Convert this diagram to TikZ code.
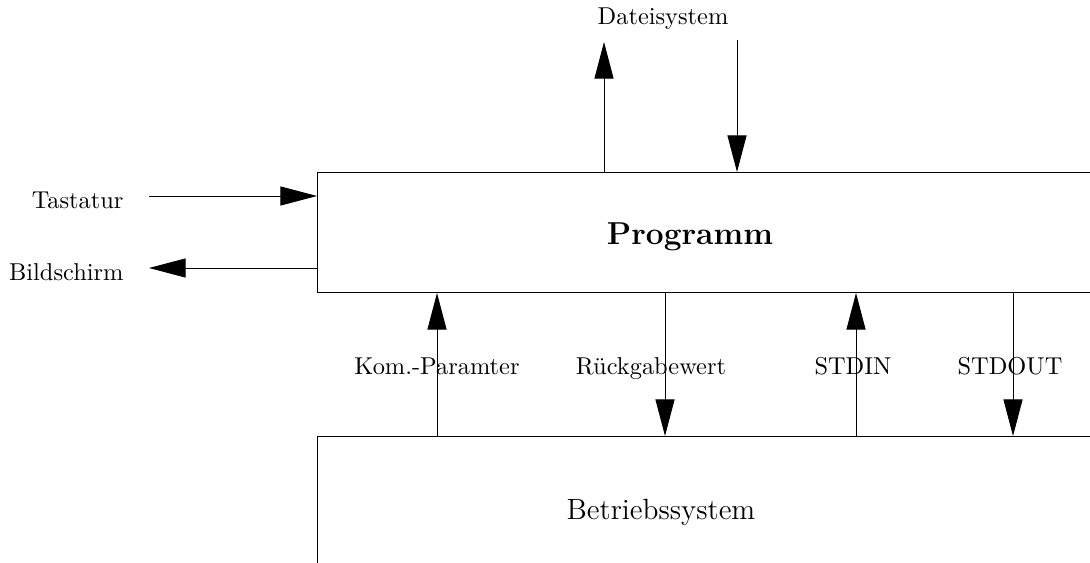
\documentclass[tikz,border=0pt]{standalone}
\usetikzlibrary{arrows.meta}
\begin{document}
\begin{tikzpicture}[x=0.41pt,y=-0.41pt,
  box/.style={draw, line width=0.4pt, minimum width=403pt, anchor=north west, inner sep=0pt},
  arr/.style={line width=0.4pt, -{Triangle[length=15pt,width=7.8pt]}},
  lbl/.style={inner sep=0pt},
  rowlbl/.style={inner sep=0pt, anchor=base}]
\clip (0,0) rectangle (1090,562);
\node[box, minimum height=49.2pt] (prog) at (317,172) {};
\node[box, minimum height=82pt] (os) at (317,436) {};
\node[lbl] (progtext) at (690,237) {\fontsize{13}{15}\selectfont\bfseries Programm};
\node[lbl] (ostext) at (661,512) {\large Betriebssystem};
\node[lbl, anchor=east] (tastatur) at (124,200) {Tastatur};
\node[lbl, anchor=east] (bildschirm) at (124,272) {Bildschirm};
\node[lbl] (datei) at (663,19) {Dateisystem};
\node[rowlbl] (kom) at (437,374) {Kom.-Paramter};
\node[rowlbl] (rueck) at (651,374) {R\"uckgabewert};
\node[rowlbl] (stdin) at (853,374) {STDIN};
\node[rowlbl] (stdout) at (1010,374) {STDOUT};
\coordinate (tast) at (149,196);
\coordinate (bild) at (149,268);
\coordinate (dup) at (604,42);
\coordinate (ddn) at (737,40);
\coordinate (ra) at (665,0);
\coordinate (sa) at (856,0);
\coordinate (oa) at (1013,0);
\draw[arr] (tast) -- (tast -| prog.west);
\draw[arr] (bild -| prog.west) -- (bild);
\draw[arr] (dup |- prog.north) -- (dup);
\draw[arr] (ddn) -- (ddn |- prog.north);
\draw[arr] (kom |- os.north) -- (kom |- prog.south);
\draw[arr] (ra |- prog.south) -- (ra |- os.north);
\draw[arr] (sa |- os.north) -- (sa |- prog.south);
\draw[arr] (oa |- prog.south) -- (oa |- os.north);
\end{tikzpicture}
\end{document}
